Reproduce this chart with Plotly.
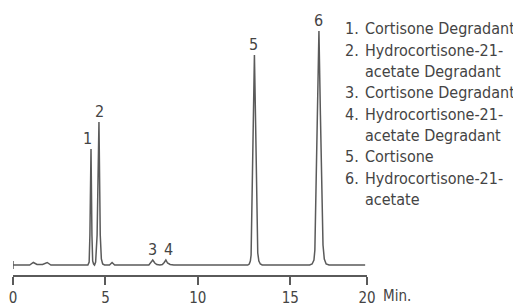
import plotly.graph_objects as go

# ---- data ----
time_min = [0, 0, 0, 0.9, 1.1, 1.3, 1.6, 1.85, 2.05, 4.05, 4.12, 4.16, 4.22, 4.27, 4.31, 4.36,
            4.41, 4.47, 4.55, 4.65, 4.72, 4.78, 4.85, 4.95, 5.22, 5.36, 5.5, 7.35, 7.45, 7.56,
            7.67, 7.78, 7.95, 8.08, 8.18, 8.27, 8.36, 8.5, 8.7, 12.7, 12.78, 12.84, 12.88,
            12.93, 12.98, 13.06, 13.13, 13.19, 13.24, 13.3, 13.38, 13.48, 16.05, 16.18, 16.28,
            16.33, 16.4, 16.46, 16.55, 16.63, 16.7, 16.77, 16.84, 16.94, 17.1, 19.05]
signal = [4, -4, 0, 0, 2.5, 0.5, 0.5, 2.5, 0, 0, 3, 30, 116, 30, 4, 1,
          0, 3, 30, 143, 30, 6, 1, 0, 0, 2.5, 0, 0, 2, 5,
          2, 0.5, 0, 0.5, 2.5, 5, 2, 0.5, 0, 0, 1, 4, 10,
          60, 135, 210, 135, 60, 12, 4, 1, 0, 0, 1, 5,
          15, 80, 150, 234, 150, 80, 20, 6, 1, 0, 0]

peak_ids = ["1", "2", "3", "4", "5", "6"]
peak_times = [4.22, 4.65, 7.56, 8.27, 13.06, 16.55]
peak_heights = [116, 143, 5, 5, 210, 234]

legend_numbers = ["1.", "2.", "", "3.", "4.", "", "5.", "6.", ""]
legend_lines = ["Cortisone Degradant", "Hydrocortisone-21-", "acetate Degradant",
                "Cortisone Degradant", "Hydrocortisone-21-", "acetate Degradant",
                "Cortisone", "Hydrocortisone-21-", "acetate"]

tick_vals = [0, 5, 10, 15, 19.15]
tick_text = ["0", "5", "10", "15", "20"]
axis_unit = "Min."

# ---- styling ----
FONT = "DejaVu Sans Condensed, Liberation Sans Narrow, DejaVu Sans, sans-serif"
TXT = "#444444"
LINE = "#5a5a5a"
OFF = 8                      # page body margin of the browser
W, H = 521 - OFF, 306 - OFF
ML, MR, MT, MB = 13 - OFF, 154, 20 - OFF, 31
PW, PH = W - ML - MR, H - MT - MB
label_xshift = [-4, 1, 0, 3, -1, 0]


def px_to_paper_x(px):
    return (px - OFF - ML) / PW


def py_to_paper_y(py):
    return (H - MB - (py - OFF)) / PH


fig = go.Figure()
fig.add_trace(go.Scatter(x=time_min, y=signal, mode="lines",
                         line=dict(color=LINE, width=1.5), hoverinfo="skip"))

ann = []
for pid, t, h, xs in zip(peak_ids, peak_times, peak_heights, label_xshift):
    ann.append(dict(x=t, y=h, xref="x", yref="y", text=pid, showarrow=False,
                    xanchor="center", yanchor="bottom", yshift=-1, xshift=xs,
                    font=dict(family=FONT, size=16, color=TXT)))

line_y0, line_dy = 29, 21.3
for i, (num, txt) in enumerate(zip(legend_numbers, legend_lines)):
    py = line_y0 + i * line_dy
    if num:
        ann.append(dict(x=px_to_paper_x(361), y=py_to_paper_y(py), xref="paper", yref="paper",
                        text=num, showarrow=False, xanchor="right", yanchor="middle",
                        font=dict(family=FONT, size=16, color=TXT)))
    ann.append(dict(x=px_to_paper_x(363), y=py_to_paper_y(py), xref="paper", yref="paper",
                    text=txt, showarrow=False, xanchor="left", yanchor="middle",
                    font=dict(family=FONT, size=16, color=TXT)))

ann.append(dict(x=px_to_paper_x(381), y=py_to_paper_y(296), xref="paper", yref="paper",
                text=axis_unit, showarrow=False, xanchor="left", yanchor="middle",
                font=dict(family=FONT, size=15, color=TXT)))

fig.update_layout(
    width=W, height=H,
    margin=dict(l=ML, r=MR, t=MT, b=MB, pad=0, autoexpand=False),
    paper_bgcolor="white", plot_bgcolor="white",
    showlegend=False,
    annotations=ann,
    xaxis=dict(range=[0, 19.15], tickvals=tick_vals, ticktext=tick_text, automargin=False,
               showgrid=False, zeroline=False, showline=True, linecolor=LINE, linewidth=1.5,
               ticks="outside", ticklen=8, tickwidth=1.5, tickcolor=LINE,
               tickfont=dict(family=FONT, size=15, color=TXT)),
    yaxis=dict(range=[-10, 245], visible=False, automargin=False),
)

fig.write_html("out.html")
